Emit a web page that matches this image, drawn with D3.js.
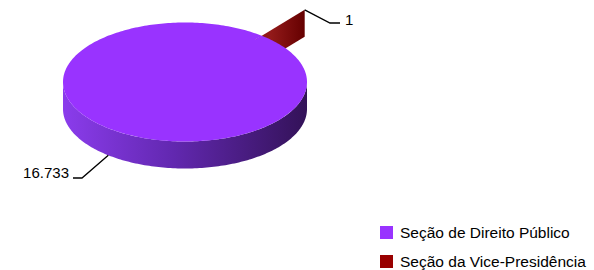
<!DOCTYPE html>
<html>
<head>
  <meta charset="utf-8">
  <title>Pizza 3D</title>
  <script src="https://d3js.org/d3.v7.min.js"></script>
  <style>
    body { margin: 0; background: #fff; }
    text { font-family: "Liberation Sans", Arial, sans-serif; fill: #000; }
  </style>
</head>
<body>
  <div id="chart"></div>
  <script>
    // dados
    var categories = ["Seção de Direito Público", "Seção da Vice-Presidência"];
    var values = [16733, 1];
    var labels = ["16.733", "1"];
    var colors = ["#9933ff", "#990000"];
    var explode = [0, 0.56];

    var width = 594, height = 270;
    var cx = 185, cy = 82, rx = 122, ry = 59.5, depth = 27;

    var svg = d3.select('#chart').append('svg')
      .attr('width', width)
      .attr('height', height);

    var defs = svg.append('defs');

    // gradiente da lateral (clara à esquerda, escura à direita)
    var side = defs.append('linearGradient')
      .attr('id', 'sideGrad')
      .attr('gradientUnits', 'userSpaceOnUse')
      .attr('x1', cx - rx).attr('x2', cx + rx).attr('y1', 0).attr('y2', 0);
    side.append('stop').attr('offset', 0).attr('stop-color', '#8b3cec');
    side.append('stop').attr('offset', 0.45).attr('stop-color', '#6228b0');
    side.append('stop').attr('offset', 1).attr('stop-color', '#331258');

    var redGrad = defs.append('linearGradient')
      .attr('id', 'redGrad')
      .attr('x1', 0).attr('x2', 1).attr('y1', 0).attr('y2', 0);
    redGrad.append('stop').attr('offset', 0).attr('stop-color', '#7a0707');
    redGrad.append('stop').attr('offset', 0.55).attr('stop-color', '#931a1a');
    redGrad.append('stop').attr('offset', 1).attr('stop-color', '#650000');

    var pie = d3.pie().sort(null)
      .startAngle(0.68)
      .endAngle(0.68 + 2 * Math.PI);
    var arcs = pie(values);

    // ponto na elipse (ângulo no padrão do d3: horário a partir do topo)
    function pt(a, r, dz, e) {
      var ox = e * rx * Math.sin(a.mid), oy = -e * ry * Math.cos(a.mid);
      return function (ang) {
        return [cx + ox + r * rx * Math.sin(ang), cy + oy - r * ry * Math.cos(ang) + dz];
      };
    }

    function sample(a0, a1) {
      var n = Math.max(2, Math.ceil(Math.abs(a1 - a0) / 0.02));
      return d3.range(n + 1).map(function (i) { return a0 + (a1 - a0) * i / n; });
    }

    arcs.forEach(function (d, i) {
      d.mid = (d.startAngle + d.endAngle) / 2;
      d.e = explode[i];
    });

    var line = d3.line();

    // fatia pequena (atrás) : face radial visível
    var small = arcs[1];
    var top0 = pt(small, 0, 0, small.e), top1 = pt(small, 1, 0, small.e);
    var bot0 = pt(small, 0, depth, small.e), bot1 = pt(small, 1, depth, small.e);
    svg.append('path')
      .attr('d', line([top0(small.endAngle), top1(small.endAngle), bot1(small.endAngle), bot0(small.endAngle)]) + 'Z')
      .attr('fill', 'url(#redGrad)');

    // fatia grande : lateral frontal + face superior
    var big = arcs[0];
    var fronts = [[Math.PI / 2, 3 * Math.PI / 2], [Math.PI / 2 + 2 * Math.PI, 3 * Math.PI / 2 + 2 * Math.PI]];
    fronts.forEach(function (f) {
      var s = Math.max(f[0], big.startAngle), e = Math.min(f[1], big.endAngle);
      if (e <= s) return;
      var up = sample(s, e).map(pt(big, 1, 0, big.e));
      var down = sample(e, s).map(pt(big, 1, depth, big.e));
      svg.append('path')
        .attr('d', line(up.concat(down)) + 'Z')
        .attr('fill', 'url(#sideGrad)');
    });

    var topPts = [pt(big, 0, 0, big.e)(0)].concat(sample(big.startAngle, big.endAngle).map(pt(big, 1, 0, big.e)));
    svg.append('path')
      .attr('d', line(topPts) + 'Z')
      .attr('fill', colors[0]);

    // rótulos com linhas guia
    var a0 = pt(big, 1, depth, big.e)(big.mid);
    svg.append('polyline')
      .attr('points', [a0, [82, 178], [73, 178]].join(' '))
      .attr('fill', 'none').attr('stroke', '#000').attr('stroke-width', 1.3);
    svg.append('text')
      .attr('x', 69).attr('y', 178)
      .attr('text-anchor', 'end')
      .style('font-size', '15px')
      .text(labels[0]);

    var a1 = top1(small.endAngle);
    svg.append('polyline')
      .attr('points', [a1, [330, 23], [340, 23]].join(' '))
      .attr('fill', 'none').attr('stroke', '#000').attr('stroke-width', 1.3);
    svg.append('text')
      .attr('x', 345).attr('y', 25)
      .style('font-size', '15px')
      .text(labels[1]);

    // legenda
    var legend = svg.append('g').attr('transform', 'translate(380,226)');
    var item = legend.selectAll('g').data(categories).enter().append('g')
      .attr('transform', function (d, i) { return 'translate(0,' + (i * 29) + ')'; });
    item.append('rect')
      .attr('width', 13).attr('height', 13)
      .attr('fill', function (d, i) { return colors[i]; });
    item.append('text')
      .attr('x', 20).attr('y', 11.5)
      .style('font-size', '15.5px')
      .text(function (d) { return d; });
  </script>
</body>
</html>
